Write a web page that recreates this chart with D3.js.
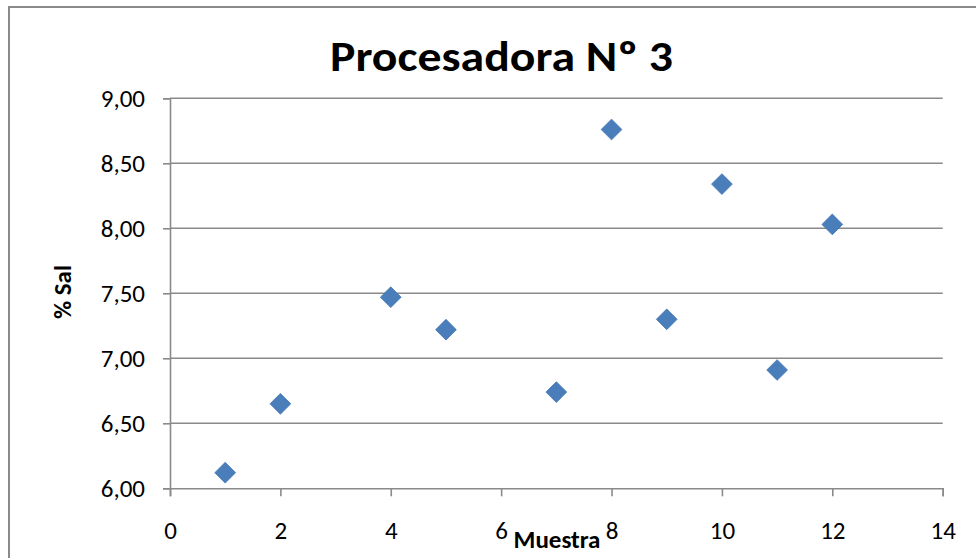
<!DOCTYPE html>
<html>
<head>
<meta charset="utf-8">
<script src="https://cdn.jsdelivr.net/npm/d3@7"></script>
<style>
  html, body { margin: 0; padding: 0; background: #fff; }
  svg { display: block; }
  text { font-family: Carlito, Calibri, "Open Sans", "Noto Sans", sans-serif; fill: #000; }
</style>
</head>
<body>
<svg id="chart" width="976" height="558"></svg>
<script>
// Sample number and salt percentage for processor 3
const muestras = [1, 2, 4, 5, 7, 8, 9, 10, 11, 12];
const sal = [6.12, 6.65, 7.47, 7.22, 6.74, 8.76, 7.30, 8.34, 6.91, 8.03];
const xTicks = [0, 2, 4, 6, 8, 10, 12, 14];
const yTicks = [6.0, 6.5, 7.0, 7.5, 8.0, 8.5, 9.0];
const titulo = "Procesadora Nº 3";
const tituloX = "Muestra";
const tituloY = "% Sal";

const svg = d3.select("#chart");
const plot = { left: 170, right: 942.7, top: 98.3, bottom: 488.3 };

const x = d3.scaleLinear().domain([0, 14]).range([plot.left, plot.right]);
const y = d3.scaleLinear().domain([6, 9]).range([plot.bottom, plot.top]);
const fmt = v => d3.format(".2f")(v).replace(".", ",");
const gray = "#8a8a8a";
const tickFont = 'Carlito, Calibri, "Open Sans", sans-serif';

// chart frame
svg.append("rect")
  .attr("x", 9).attr("y", 7).attr("width", 990).attr("height", 600)
  .attr("fill", "none").attr("stroke", gray).attr("stroke-width", 2);

// horizontal gridlines
svg.append("g").selectAll("line").data(yTicks.filter(v => v > 6)).join("line")
  .attr("x1", plot.left).attr("x2", plot.right)
  .attr("y1", d => y(d)).attr("y2", d => y(d))
  .attr("stroke", gray).attr("stroke-width", 1.6);

// y axis
const yAxis = svg.append("g").attr("transform", `translate(${plot.left},0)`)
  .call(d3.axisLeft(y).tickValues(yTicks).tickFormat(fmt).tickSize(7).tickPadding(18));
yAxis.select(".domain").attr("stroke", gray).attr("stroke-width", 1.6);
yAxis.selectAll(".tick line").attr("stroke", gray).attr("stroke-width", 1.6);
yAxis.selectAll(".tick text")
  .style("font-family", tickFont)
  .attr("font-size", 25).attr("fill", "#000").attr("dy", "0.33em");

// x axis
const xAxis = svg.append("g").attr("transform", `translate(0,${plot.bottom})`)
  .call(d3.axisBottom(x).tickValues(xTicks).tickFormat(d3.format("d")).tickSize(8));
xAxis.select(".domain").attr("stroke", gray).attr("stroke-width", 1.6);
xAxis.selectAll(".tick line").attr("stroke", gray).attr("stroke-width", 1.6);
xAxis.selectAll(".tick text")
  .style("font-family", tickFont)
  .attr("font-size", 25).attr("fill", "#000")
  .attr("y", 51).attr("dy", 0);

// data points as diamonds
const diamond = d3.symbol().type(d3.symbolSquare).size(215);
svg.append("g").selectAll("path").data(muestras.map((m, i) => ({ m, v: sal[i] }))).join("path")
  .attr("d", diamond)
  .attr("transform", d => `translate(${x(d.m)},${y(d.v)}) rotate(45)`)
  .attr("fill", "#4a7ebb").attr("stroke", "#4577b3").attr("stroke-width", 0.8);

// title
svg.append("text")
  .attr("x", 501.5).attr("y", 71)
  .attr("text-anchor", "middle")
  .attr("font-size", 43).attr("font-weight", "bold")
  .attr("textLength", 343).attr("lengthAdjust", "spacingAndGlyphs")
  .text(titulo);

// axis titles
svg.append("text")
  .attr("x", 557).attr("y", 548)
  .attr("text-anchor", "middle")
  .attr("font-size", 25).attr("font-weight", "bold")
  .text(tituloX);

svg.append("text")
  .attr("transform", "translate(71,292) rotate(-90)")
  .attr("text-anchor", "middle")
  .attr("font-size", 25).attr("font-weight", "bold")
  .text(tituloY);
</script>
</body>
</html>
